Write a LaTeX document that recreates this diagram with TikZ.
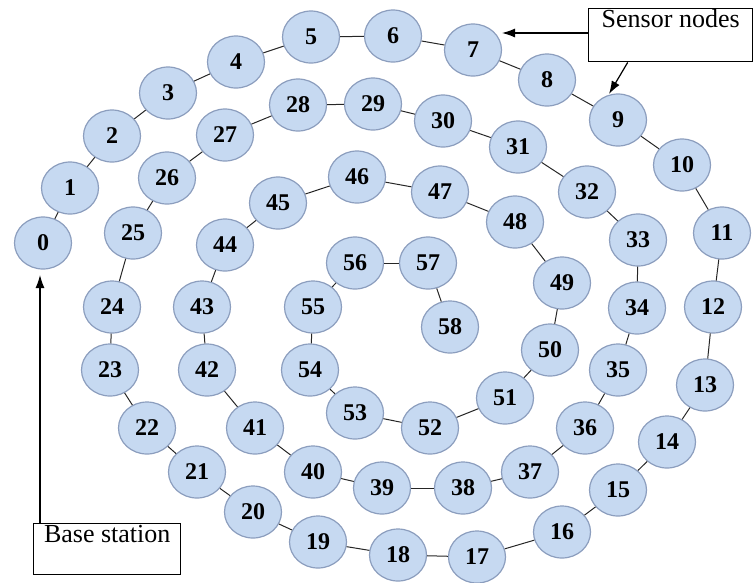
\documentclass[tikz,border=0pt]{standalone}
\usepackage{fontspec}
\setmainfont{Liberation Serif}
\usetikzlibrary{arrows.meta,shapes.geometric}

\definecolor{nodefill}{RGB}{198,217,241}
\definecolor{nodeline}{RGB}{140,158,190}

\begin{document}
\begin{tikzpicture}[
  x=1pt, y=-1pt,
  snode/.style = {ellipse, draw=nodeline, line width=1.2pt, fill=nodefill,
                  minimum width=57pt, minimum height=52pt, inner sep=0pt,
                  font=\fontsize{24}{24}\selectfont\bfseries},
  link/.style  = {line width=1pt, black!85},
  lbox/.style  = {draw, line width=1.4pt, inner sep=2pt, text height=17pt,
                  font=\fontsize{26}{30}\selectfont, fill=white},
  parr/.style  = {-{Latex[length=13pt,width=9pt]}, line width=1.2pt},
]
\useasboundingbox (0,0) rectangle (754,582);

% sensor nodes along the spiral, 0 = outermost
\foreach \px/\py [count=\i from 0] in {
    43/243, 70/188, 112/136, 168/93, 236/62, 311/37, 393/36, 473/50,
    547/80, 618/120, 682/165, 722/233, 713/307, 705/385, 667/442,
    618/490, 562/532, 477/557, 398/555, 318/542, 253/512, 197/472,
    147/428, 110/370, 112/307, 133/233, 167/178, 225/135, 298/105,
    373/104, 443/121, 518/147, 587/192, 638/240, 637/308, 618/370,
    585/428, 530/472, 463/488, 382/488, 313/472, 255/428, 207/370,
    202/307, 225/245, 278/203, 357/177, 440/192, 515/222, 562/283,
    550/350, 505/398, 430/428, 355/413, 310/370, 313/307, 355/263,
    428/263, 450/327}
  \node[snode] (n\i) at (\px,\py) {\i};

% chain links
\foreach \i in {1,...,58}{
  \pgfmathtruncatemacro\prv{\i-1}
  \draw[link] (n\prv) -- (n\i);
}

% labels
\node[lbox, minimum width=164pt, text depth=32pt, anchor=north west]
  (senslbl) at (588,8) {Sensor nodes};
\node[lbox, minimum width=147pt, text depth=30pt, anchor=north west]
  (baselbl) at (33,523) {Base station};

\coordinate (tip7)   at (502,33);
\coordinate (tip9)   at (609,94);
\coordinate (tipbs)  at (40,275);

\draw[parr] (senslbl.west |- tip7) -- (tip7);
\draw[parr] ([xshift=-43pt]senslbl.south) -- (tip9);
\draw[parr] (baselbl.north west -| tipbs) -- (tipbs);

\end{tikzpicture}
\end{document}
